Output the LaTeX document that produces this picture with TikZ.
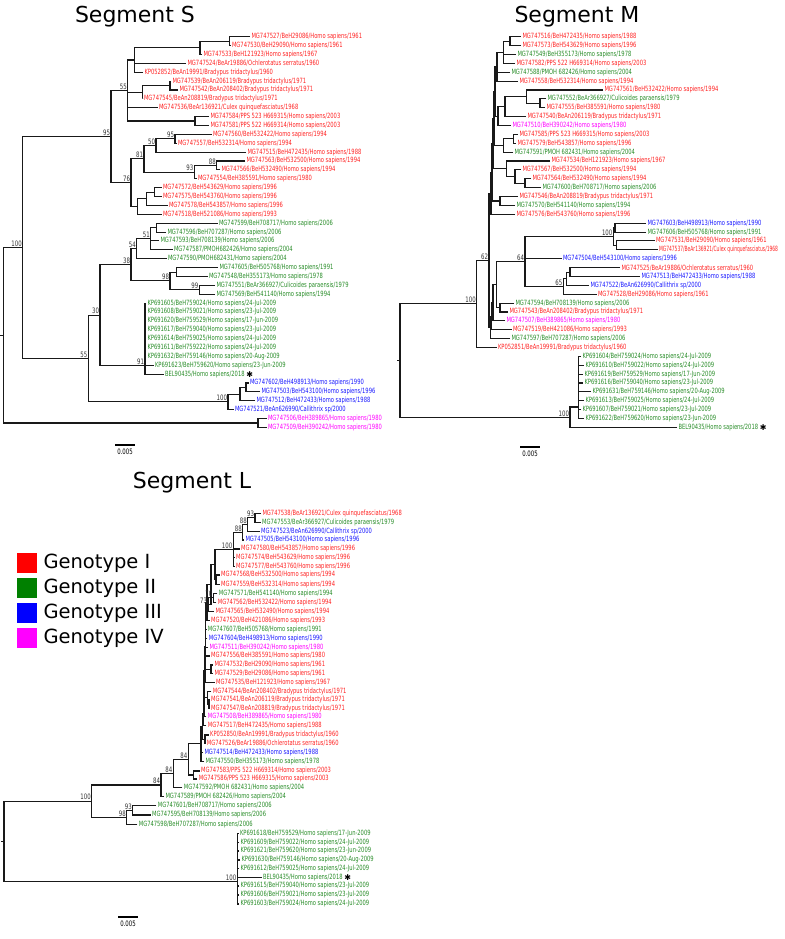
\documentclass[tikz,border=0pt]{standalone}
\usepackage{fontspec}
\setmainfont{DejaVu Sans}
\newfontfamily\labfont[FakeStretch=0.72]{DejaVu Sans}
\newfontfamily\labfontn[FakeStretch=0.615]{DejaVu Sans}
\usetikzlibrary{calc}
\definecolor{cR}{RGB}{255,35,35}
\definecolor{cG}{RGB}{40,140,40}
\definecolor{cB}{RGB}{25,25,255}
\definecolor{cM}{RGB}{255,0,255}
\definecolor{kR}{RGB}{255,0,0}
\definecolor{kG}{RGB}{0,128,0}
\definecolor{kB}{RGB}{0,0,255}
\definecolor{kM}{RGB}{255,0,255}
\newcommand\lf{\labfont\fontsize{7.2}{8}\selectfont}
\newcommand\bsfont{\labfont\fontsize{7.5}{8}\selectfont}
\tikzset{
  br/.style={line width=1.1pt,black!90},
  lab/.style={anchor=west,inner sep=0pt,outer sep=0pt,xshift=1.5pt,font=\lf},
  bsn/.style={anchor=south east,inner sep=0pt,xshift=-0.8pt,yshift=0.9pt,font=\bsfont,text=black!80},
  astk/.style={anchor=west,inner sep=0pt,xshift=1.5pt,font=\fontsize{8}{8}\selectfont,text=black},
  ttl/.style={font=\fontsize{22}{22}\selectfont,inner sep=0pt},
  leg/.style={anchor=west,font=\fontsize{19.5}{20}\selectfont,inner sep=0pt},
  keybox/.style={minimum size=20pt,inner sep=0pt,draw=none},
  sbar/.style={line width=1.1pt},
  sblab/.style={font=\bsfont,inner sep=0pt,anchor=north}
}
\newcommand\lv[5]{\coordinate (#1) at (#2,#3);\node[lab,text=#4] (#1t) at (#1) {#5};}
\newcommand\nd[4]{\path let \p1=(#3),\p2=(#4) in coordinate (#1) at (#2pt,{0.5*\y1+0.5*\y2});}
\newcommand\kids[2]{\foreach \c in {#2}{\draw[br] (\c) -| (#1);}}
\newcommand\bsv[2]{\node[bsn] (#1-bs) at (#1) {#2};}
\begin{document}
\begin{tikzpicture}[x=1pt,y=-1pt]
\useasboundingbox (0,0) rectangle (784,939);
% ---------------- Titles
\node[ttl] (tS) at (135,17) {Segment S};
\node[ttl] (tM) at (577,17) {Segment M};
\node[ttl] (tL) at (192,483) {Segment L};
% ---------------- Segment S leaves
\lv{a0}{250}{36.7}{cR}{MG747527/BeH29086/Homo sapiens/1961}
\lv{a1}{230.5}{45.6}{cR}{MG747530/BeH29090/Homo sapiens/1961}
\lv{a2}{202}{54.5}{cR}{MG747533/BeH121923/Homo sapiens/1967}
\lv{a3}{186}{63.3}{cR}{MG747524/BeAr19886/Ochlerotatus serratus/1960}
\lv{a4}{143}{72.2}{cR}{KP052852/BeAn19991/Bradypus tridactylus/1960}
\lv{a5}{171}{81.1}{cR}{MG747539/BeAn206119/Bradypus tridactylus/1971}
\lv{a6}{178}{90.0}{cR}{MG747542/BeAn208402/Bradypus tridactylus/1971}
\lv{a7}{142.5}{98.9}{cR}{MG747545/BeAn208819/Bradypus tridactylus/1971}
\lv{a8}{157.5}{107.7}{cR}{MG747536/BeAr136921/Culex quinquefasciatus/1968}
\lv{a9}{209}{116.6}{cR}{MG747584/PPS 523 H669315/Homo sapiens/2003}
\lv{a10}{209}{125.5}{cR}{MG747581/PPS 522 H669314/Homo sapiens/2003}
\lv{a11}{211.5}{134.4}{cR}{MG747560/BeH532422/Homo sapiens/1994}
\lv{a12}{176.5}{143.3}{cR}{MG747557/BeH532314/Homo sapiens/1994}
\lv{a13}{246}{152.1}{cR}{MG747515/BeH472435/Homo sapiens/1988}
\lv{a14}{245}{161.0}{cR}{MG747563/BeH532500/Homo sapiens/1994}
\lv{a15}{220}{169.9}{cR}{MG747566/BeH532490/Homo sapiens/1994}
\lv{a16}{196.5}{178.8}{cR}{MG747554/BeH385591/Homo sapiens/1980}
\lv{a17}{161.5}{187.7}{cR}{MG747572/BeH543629/Homo sapiens/1996}
\lv{a18}{161.5}{196.5}{cR}{MG747575/BeH543760/Homo sapiens/1996}
\lv{a19}{167.5}{205.4}{cR}{MG747578/BeH543857/Homo sapiens/1996}
\lv{a20}{161.5}{214.3}{cR}{MG747518/BeH521086/Homo sapiens/1993}
\lv{a21}{217.5}{223.2}{cG}{MG747599/BeH708717/Homo sapiens/2006}
\lv{a22}{166}{232.1}{cG}{MG747596/BeH707287/Homo sapiens/2006}
\lv{a23}{159}{240.9}{cG}{MG747593/BeH708139/Homo sapiens/2006}
\lv{a24}{172.5}{249.8}{cG}{MG747587/PMOH682426/Homo sapiens/2004}
\lv{a25}{166.5}{258.7}{cG}{MG747590/PMOH682431/Homo sapiens/2004}
\lv{a26}{218}{267.6}{cG}{MG747605/BeH505768/Homo sapiens/1991}
\lv{a27}{207.5}{276.5}{cG}{MG747548/BeH355173/Homo sapiens/1978}
\lv{a28}{215}{285.3}{cG}{MG747551/BeAr366927/Culicoides paraensis/1979}
\lv{a29}{215}{294.2}{cG}{MG747569/BeH541140/Homo sapiens/1994}
\lv{a30}{146}{303.1}{cG}{KP691605/BeH759024/Homo sapiens/24-Jul-2009}
\lv{a31}{146}{312.0}{cG}{KP691608/BeH759021/Homo sapiens/23-Jul-2009}
\lv{a32}{146}{320.9}{cG}{KP691620/BeH759529/Homo sapiens/17-Jun-2009}
\lv{a33}{146}{329.7}{cG}{KP691617/BeH759040/Homo sapiens/23-Jul-2009}
\lv{a34}{146}{338.6}{cG}{KP691614/BeH759025/Homo sapiens/24-Jul-2009}
\lv{a35}{146}{347.5}{cG}{KP691611/BeH759222/Homo sapiens/24-Jul-2009}
\lv{a36}{146}{356.4}{cG}{KP691632/BeH759146/Homo sapiens/20-Aug-2009}
\lv{a37}{153.5}{365.3}{cG}{KP691623/BeH759620/Homo sapiens/23-Jun-2009}
\lv{a38}{163.5}{374.1}{cG}{BEL90435/Homo sapiens/2018}
\node[astk] (a38s) at (a38t.east) {✱};
\lv{a39}{248.5}{383.0}{cB}{MG747602/BeH498913/Homo sapiens/1990}
\lv{a40}{260}{391.9}{cB}{MG747503/BeH543100/Homo sapiens/1996}
\lv{a41}{255}{400.8}{cB}{MG747512/BeH472433/Homo sapiens/1988}
\lv{a42}{233.5}{409.6}{cB}{MG747521/BeAn626990/Callithrix sp/2000}
\lv{a43}{266.5}{418.5}{cM}{MG747506/BeH389865/Homo sapiens/1980}
\lv{a44}{266.5}{427.4}{cM}{MG747509/BeH390242/Homo sapiens/1980}
% ---------------- Segment S tree
\nd{sA1}{229.3}{a0}{a1}\kids{sA1}{a0,a1}
\nd{sA2}{200}{sA1}{a2}\kids{sA2}{sA1,a2}
\nd{sA3}{134.3}{sA2}{a4}\kids{sA3}{sA2,a3,a4}
\nd{sB1}{170}{a5}{a6}\kids{sB1}{a5,a6}
\nd{sB2}{142.7}{sB1}{a7}\kids{sB2}{sB1,a7}
\nd{sC1}{195}{a9}{a10}\kids{sC1}{a9,a10}
\nd{s55}{127.7}{sA3}{sC1}\kids{s55}{sA3,sB2,a8,sC1}
\nd{sQ1}{175}{a11}{a12}\kids{sQ1}{a11,a12}
\nd{sQ2}{156}{sQ1}{a13}\kids{sQ2}{sQ1,a13}
\nd{sR1}{216.7}{a14}{a15}\kids{sR1}{a14,a15}
\nd{sR2}{194.3}{sR1}{a16}\kids{sR2}{sR1,a16}
\nd{s81}{144}{sQ2}{sR2}\kids{s81}{sQ2,sR2}
\nd{sS1}{154.3}{a17}{a18}\kids{sS1}{a17,a18}
\nd{sS2}{146.7}{sS1}{a19}\kids{sS2}{sS1,a19}
\nd{sS3}{137.7}{sS2}{a20}\kids{sS3}{sS2,a20}
\nd{s76}{131}{s81}{sS3}\kids{s76}{s81,sS3}
\nd{s95}{111}{s55}{s76}\kids{s95}{s55,s76}
\nd{sT1}{156.7}{a21}{a22}\kids{sT1}{a21,a22}
\nd{s51}{150.7}{sT1}{a24}\kids{s51}{sT1,a23,a24}
\nd{s54}{136.7}{s51}{a25}\kids{s54}{s51,a25}
\nd{sV1}{176.7}{a26}{a27}\kids{sV1}{a26,a27}
\nd{s99}{199.3}{a28}{a29}\kids{s99}{a28,a29}
\nd{s98}{170}{sV1}{s99}\kids{s98}{sV1,s99}
\nd{s38}{131}{s54}{s98}\kids{s38}{s54,s98}
\coordinate (s91) at (145,365.3);
\kids{s91}{a30,a31,a32,a33,a34,a35,a36,a37,a38}
\nd{s30}{100}{s38}{s91}\kids{s30}{s38,s91}
\nd{sB0}{246}{a39}{a40}\kids{sB0}{a39,a40}
\nd{sBl}{240}{sB0}{a41}\kids{sBl}{sB0,a41}
\nd{sIII}{228}{sBl}{a42}\kids{sIII}{sBl,a42}
\nd{s55b}{88.3}{s30}{sIII}\kids{s55b}{s30,sIII}
\nd{s100}{22.7}{s95}{s55b}\kids{s100}{s95,s55b}
\nd{sMg}{258}{a43}{a44}\kids{sMg}{a43,a44}
\nd{sRt}{3.3}{s100}{sMg}\kids{sRt}{s100,sMg}
\coordinate (sRtT) at ($(sRt)+(-3,0)$);
\draw[br] (sRt) -- (sRtT);
\bsv{s55}{55}\bsv{sQ1}{95}\bsv{sQ2}{50}\bsv{sR1}{88}\bsv{sR2}{93}\bsv{s81}{81}
\bsv{s76}{76}\bsv{s95}{95}\bsv{s51}{51}\bsv{s54}{54}\bsv{s98}{98}\bsv{s99}{99}
\bsv{s38}{38}\bsv{s91}{91}\bsv{s30}{30}\bsv{s55b}{55}\bsv{s100}{100}\bsv{sIII}{100}
\coordinate (sbS1) at (115,445);\coordinate (sbS2) at (135,445);
\draw[sbar] (sbS1) -- (sbS2);
\node[sblab] (sbSt) at ($(sbS1)!0.5!(sbS2)+(0,4)$) {0.005};
% ---------------- Segment M leaves
\lv{b0}{521}{36.7}{cR}{MG747516/BeH472435/Homo sapiens/1988}
\lv{b1}{521}{45.6}{cR}{MG747573/BeH543629/Homo sapiens/1996}
\lv{b2}{516}{54.5}{cG}{MG747549/BeH355173/Homo sapiens/1978}
\lv{b3}{515}{63.3}{cR}{MG747582/PPS 522 H669314/Homo sapiens/2003}
\lv{b4}{510}{72.2}{cG}{MG747588/PMOH 682426/Homo sapiens/2004}
\lv{b5}{518}{81.1}{cR}{MG747558/BeH532314/Homo sapiens/1994}
\lv{b6}{603}{90.0}{cR}{MG747561/BeH532422/Homo sapiens/1994}
\lv{b7}{546}{98.9}{cG}{MG747552/BeAr366927/Culicoides paraensis/1979}
\lv{b8}{545}{107.7}{cR}{MG747555/BeH385591/Homo sapiens/1980}
\lv{b9}{526}{116.6}{cR}{MG747540/BeAn206119/Bradypus tridactylus/1971}
\lv{b10}{511}{125.5}{cM}{MG747510/BeH390242/Homo sapiens/1980}
\lv{b11}{518}{134.4}{cR}{MG747585/PPS 523 H669315/Homo sapiens/2003}
\lv{b12}{516}{143.3}{cR}{MG747579/BeH543857/Homo sapiens/1996}
\lv{b13}{513}{152.1}{cG}{MG747591/PMOH 682431/Homo sapiens/2004}
\lv{b14}{550}{161.0}{cR}{MG747534/BeH121923/Homo sapiens/1967}
\lv{b15}{521}{169.9}{cR}{MG747567/BeH532500/Homo sapiens/1994}
\lv{b16}{531}{178.8}{cR}{MG747564/BeH532490/Homo sapiens/1994}
\lv{b17}{541}{187.7}{cG}{MG747600/BeH708717/Homo sapiens/2006}
\lv{b18}{518}{196.5}{cR}{MG747546/BeAn208819/Bradypus tridactylus/1971}
\lv{b19}{515}{205.4}{cG}{MG747570/BeH541140/Homo sapiens/1994}
\lv{b20}{515}{214.3}{cR}{MG747576/BeH543760/Homo sapiens/1996}
\lv{b21}{646}{223.2}{cB}{MG747603/BeH498913/Homo sapiens/1990}
\lv{b22}{646}{232.1}{cG}{MG747606/BeH505768/Homo sapiens/1991}
\lv{b23}{654.5}{240.9}{cR}{MG747531/BeH29090/Homo sapiens/1961}
\coordinate (b24) at (657.5,249.8);
\node[lab,text=cR,font=\labfontn\fontsize{7.2}{8}\selectfont] (b24t) at (b24) {MG747537/BeAr136921/Culex quinquefasciatus/1968};
\lv{b25}{561.5}{258.7}{cB}{MG747504/BeH543100/Homo sapiens/1996}
\lv{b26}{620}{267.6}{cR}{MG747525/BeAr19886/Ochlerotatus serratus/1960}
\lv{b27}{640}{276.5}{cB}{MG747513/BeH472433/Homo sapiens/1988}
\lv{b28}{589}{285.3}{cB}{MG747522/BeAn626990/Callithrix sp/2000}
\lv{b29}{596.5}{294.2}{cR}{MG747528/BeH29086/Homo sapiens/1961}
\lv{b30}{514}{303.1}{cG}{MG747594/BeH708139/Homo sapiens/2006}
\lv{b31}{508}{312.0}{cR}{MG747543/BeAn208402/Bradypus tridactylus/1971}
\lv{b32}{505}{320.9}{cM}{MG747507/BeH389865/Homo sapiens/1980}
\lv{b33}{511.5}{329.7}{cR}{MG747519/BeH421086/Homo sapiens/1993}
\lv{b34}{510}{338.6}{cG}{MG747597/BeH707287/Homo sapiens/2006}
\lv{b35}{496.5}{347.5}{cR}{KP052851/BeAn19991/Bradypus tridactylus/1960}
\lv{b36}{581}{356.4}{cG}{KP691604/BeH759024/Homo sapiens/24-Jul-2009}
\lv{b37}{584}{365.3}{cG}{KP691610/BeH759022/Homo sapiens/24-Jul-2009}
\lv{b38}{583}{374.1}{cG}{KP691619/BeH759529/Homo sapiens/17-Jun-2009}
\lv{b39}{583}{383.0}{cG}{KP691616/BeH759040/Homo sapiens/23-Jul-2009}
\lv{b40}{591}{391.9}{cG}{KP691631/BeH759146/Homo sapiens/20-Aug-2009}
\lv{b41}{584}{400.8}{cG}{KP691613/BeH759025/Homo sapiens/24-Jul-2009}
\lv{b42}{581}{409.6}{cG}{KP691607/BeH759021/Homo sapiens/23-Jul-2009}
\lv{b43}{584}{418.5}{cG}{KP691622/BeH759620/Homo sapiens/23-Jun-2009}
\lv{b44}{677}{427.4}{cG}{BEL90435/Homo sapiens/2018}
\node[astk] (b44s) at (b44t.east) {✱};
% ---------------- Segment M tree
\nd{mM1}{510}{b0}{b1}\kids{mM1}{b0,b1}
\nd{mM2}{503.3}{mM1}{b3}\kids{mM2}{mM1,b2,b3}
\nd{mM3}{497}{mM2}{b5}\kids{mM3}{mM2,b4,b5}
\nd{mM4b}{540}{b7}{b8}\kids{mM4b}{b7,b8}
\nd{mM4a}{526.7}{b6}{mM4b}\kids{mM4a}{b6,mM4b}
\nd{mM4c}{505}{mM4a}{b9}\kids{mM4c}{mM4a,b9}
\nd{mM4d}{498}{mM4c}{b10}\kids{mM4d}{mM4c,b10}
\nd{mM5a}{513.3}{b11}{b12}\kids{mM5a}{b11,b12}
\nd{mM5}{503.3}{mM5a}{b13}\kids{mM5}{mM5a,b13}
\nd{mM6a}{525}{b16}{b17}\kids{mM6a}{b16,b17}
\nd{mM6b}{515}{b15}{mM6a}\kids{mM6b}{b15,mM6a}
\nd{mM6}{506.7}{b14}{mM6b}\kids{mM6}{b14,mM6b}
\nd{mM7}{500}{b18}{b19}\kids{mM7}{b18,b19}
\nd{mT1}{495}{mM3}{mM4d}\kids{mT1}{mM3,mM4d}
\nd{mT2}{494}{mT1}{mM5}\kids{mT2}{mT1,mM5}
\nd{mT3}{493}{mT2}{mM6}\kids{mT3}{mT2,mM6}
\nd{mT4}{492}{mT3}{mM7}\kids{mT4}{mT3,mM7}
\nd{mT5}{491}{mT4}{b20}\kids{mT5}{mT4,b20}
\nd{mP1}{615}{b21}{b22}\kids{mP1}{b21,b22}
\nd{mP2}{616.7}{b23}{b24}\kids{mP2}{b23,b24}
\nd{m100}{613.3}{mP1}{mP2}\kids{m100}{mP1,mP2}
\nd{mC}{570}{b26}{b27}\kids{mC}{b26,b27}
\nd{m65a}{566.7}{mC}{b28}\kids{m65a}{mC,b28}
\nd{m65}{563.3}{m65a}{b29}\kids{m65}{m65a,b29}
\nd{m64}{525}{m100}{m65}\kids{m64}{m100,b25,m65}
\nd{mL1}{500}{b30}{b31}\kids{mL1}{b30,b31}
\nd{mW1}{496.7}{m64}{mL1}\kids{mW1}{m64,mL1}
\nd{mW2}{493}{mW1}{b32}\kids{mW2}{mW1,b32}
\nd{mW3}{491.5}{mW2}{b33}\kids{mW3}{mW2,b33}
\nd{mW4}{490.5}{mW3}{b34}\kids{mW4}{mW3,b34}
\nd{m62}{489}{mT5}{mW4}\kids{m62}{mT5,mW4}
\nd{mU}{476.7}{m62}{b35}\kids{mU}{m62,b35}
\coordinate (mKPi) at (578.5,407);
\kids{mKPi}{b36,b37,b38,b39,b40,b41,b42,b43}
\coordinate (mKP) at (570,417.3);
\kids{mKP}{mKPi,b44}
\nd{mRt}{400}{mU}{mKP}\kids{mRt}{mU,mKP}
\coordinate (mRtT) at ($(mRt)+(-3,0)$);
\draw[br] (mRt) -- (mRtT);
\bsv{m100}{100}\bsv{m64}{64}\bsv{m65}{65}\bsv{m62}{62}\bsv{mU}{100}\bsv{mKP}{100}
\coordinate (sbM1) at (520,447);\coordinate (sbM2) at (540,447);
\draw[sbar] (sbM1) -- (sbM2);
\node[sblab] (sbMt) at ($(sbM1)!0.5!(sbM2)+(0,4)$) {0.005};
% ---------------- Segment L leaves
\lv{c0}{261}{513.3}{cR}{MG747538/BeAr136921/Culex quinquefasciatus/1968}
\lv{c1}{260.7}{522.3}{cG}{MG747553/BeAr366927/Culicoides paraensis/1979}
\lv{c2}{259.7}{531.7}{cB}{MG747523/BeAn626990/Callithrix sp/2000}
\lv{c3}{244}{540}{cB}{MG747505/BeH543100/Homo sapiens/1996}
\lv{c4}{239.7}{549}{cR}{MG747580/BeH543857/Homo sapiens/1996}
\lv{c5}{234.7}{557.7}{cR}{MG747574/BeH543629/Homo sapiens/1996}
\lv{c6}{234.7}{566.7}{cR}{MG747577/BeH543760/Homo sapiens/1996}
\lv{c7}{219.7}{575}{cR}{MG747568/BeH532500/Homo sapiens/1994}
\lv{c8}{219.7}{584.3}{cR}{MG747559/BeH532314/Homo sapiens/1994}
\lv{c9}{217.3}{593.3}{cG}{MG747571/BeH541140/Homo sapiens/1994}
\lv{c10}{216.3}{602.3}{cR}{MG747562/BeH532422/Homo sapiens/1994}
\lv{c11}{214}{611.7}{cR}{MG747565/BeH532490/Homo sapiens/1994}
\lv{c12}{209.7}{620.7}{cR}{MG747520/BeH421086/Homo sapiens/1993}
\lv{c13}{206.3}{629.3}{cG}{MG747607/BeH505768/Homo sapiens/1991}
\lv{c14}{207.3}{638.3}{cB}{MG747604/BeH498913/Homo sapiens/1990}
\lv{c15}{208}{647.3}{cM}{MG747511/BeH390242/Homo sapiens/1980}
\lv{c16}{209.7}{656}{cR}{MG747556/BeH385591/Homo sapiens/1980}
\lv{c17}{213}{665}{cR}{MG747532/BeH29090/Homo sapiens/1961}
\lv{c18}{213}{673.3}{cR}{MG747529/BeH29086/Homo sapiens/1961}
\lv{c19}{214.7}{682.7}{cR}{MG747535/BeH121923/Homo sapiens/1967}
\lv{c20}{211.3}{691.7}{cR}{MG747544/BeAn208402/Bradypus tridactylus/1971}
\lv{c21}{209.7}{700}{cR}{MG747541/BeAn206119/Bradypus tridactylus/1971}
\lv{c22}{209.7}{708.3}{cR}{MG747547/BeAn208819/Bradypus tridactylus/1971}
\lv{c23}{206.3}{716.7}{cM}{MG747508/BeH389865/Homo sapiens/1980}
\lv{c24}{206.3}{725.7}{cR}{MG747517/BeH472435/Homo sapiens/1988}
\lv{c25}{208.7}{735}{cR}{KP052850/BeAn19991/Bradypus tridactylus/1960}
\lv{c26}{205.3}{743.3}{cR}{MG747526/BeAr19886/Ochlerotatus serratus/1960}
\lv{c27}{203}{752.7}{cB}{MG747514/BeH472433/Homo sapiens/1988}
\lv{c28}{204}{761.7}{cG}{MG747550/BeH355173/Homo sapiens/1978}
\lv{c29}{199.7}{771}{cR}{MG747583/PPS 522 H669314/Homo sapiens/2003}
\lv{c30}{197.3}{779}{cR}{MG747586/PPS 523 H669315/Homo sapiens/2003}
\lv{c31}{182.3}{787.3}{cG}{MG747592/PMOH 682431/Homo sapiens/2004}
\lv{c32}{164}{796.7}{cG}{MG747589/PMOH 682426/Homo sapiens/2004}
\lv{c33}{156.3}{805.7}{cG}{MG747601/BeH708717/Homo sapiens/2006}
\lv{c34}{150.7}{815}{cG}{MG747595/BeH708139/Homo sapiens/2006}
\lv{c35}{137.3}{824.3}{cG}{MG747598/BeH707287/Homo sapiens/2006}
\lv{c36}{238.5}{833.3}{cG}{KP691618/BeH759529/Homo sapiens/17-Jun-2009}
\lv{c37}{239}{842.3}{cG}{KP691609/BeH759022/Homo sapiens/24-Jul-2009}
\lv{c38}{239}{851}{cG}{KP691621/BeH759620/Homo sapiens/23-Jun-2009}
\lv{c39}{240}{860}{cG}{KP691630/BeH759146/Homo sapiens/20-Aug-2009}
\lv{c40}{239}{868.3}{cG}{KP691612/BeH759025/Homo sapiens/24-Jul-2009}
\lv{c41}{261.5}{877.7}{cG}{BEL90435/Homo sapiens/2018}
\node[astk] (c41s) at (c41t.east) {✱};
\lv{c42}{239}{886}{cG}{KP691615/BeH759040/Homo sapiens/23-Jul-2009}
\lv{c43}{239}{895}{cG}{KP691606/BeH759021/Homo sapiens/23-Jul-2009}
\lv{c44}{239}{904}{cG}{KP691603/BeH759024/Homo sapiens/24-Jul-2009}
% ---------------- Segment L tree
\nd{l93}{255}{c0}{c1}\kids{l93}{c0,c1}
\nd{l88a}{247.7}{l93}{c2}\kids{l88a}{l93,c2}
\nd{l88b}{242.7}{l88a}{c3}\kids{l88b}{l88a,c3}
\nd{l100}{233.3}{l88b}{c6}\kids{l100}{l88b,c4,c5,c6}
\nd{lP1}{216}{c7}{c8}\kids{lP1}{c7,c8}
\nd{lB1}{215}{l100}{lP1}\kids{lB1}{l100,lP1}
\nd{l70}{213.3}{c9}{c10}\kids{l70}{c9,c10}
\nd{l73}{208}{l70}{c11}\kids{l73}{l70,c11}
\nd{n1}{211}{lB1}{l73}\kids{n1}{lB1,l73}
\nd{n2}{207}{n1}{c12}\kids{n2}{n1,c12}
\nd{n3}{205.5}{n2}{c13}\kids{n3}{n2,c13}
\nd{n4}{205.5}{n3}{c14}\kids{n4}{n3,c14}
\nd{n5}{205.5}{n4}{c15}\kids{n5}{n4,c15}
\nd{n6}{205.5}{n5}{c16}\kids{n6}{n5,c16}
\nd{lD1}{211}{c17}{c18}\kids{lD1}{c17,c18}
\nd{n7}{205}{n6}{lD1}\kids{n7}{n6,lD1}
\nd{n8}{205}{n7}{c19}\kids{n8}{n7,c19}
\nd{lD2}{209}{c21}{c22}\kids{lD2}{c21,c22}
\nd{lD3}{207.5}{c20}{lD2}\kids{lD3}{c20,lD2}
\nd{n9}{204}{n8}{lD3}\kids{n9}{n8,lD3}
\nd{n10}{204}{n9}{c23}\kids{n10}{n9,c23}
\nd{n11}{203.5}{n10}{c24}\kids{n11}{n10,c24}
\nd{lD4}{205}{c25}{c26}\kids{lD4}{c25,c26}
\nd{n12}{202.5}{n11}{lD4}\kids{n12}{n11,lD4}
\nd{lX}{201}{n12}{c28}\kids{lX}{n12,c27,c28}
\nd{lP2}{193.3}{c29}{c30}\kids{lP2}{c29,c30}
\nd{l84a}{188.3}{lX}{lP2}\kids{l84a}{lX,lP2}
\nd{l84b}{173.3}{l84a}{c31}\kids{l84b}{l84a,c31}
\nd{l84c}{161}{l84b}{c32}\kids{l84c}{l84b,c32}
\nd{l93b}{132.7}{c33}{c34}\kids{l93b}{c33,c34}
\nd{l98}{126.7}{l93b}{c35}\kids{l98}{l93b,c35}
\nd{lA}{91.7}{l84c}{l98}\kids{lA}{l84c,l98}
\coordinate (lKP) at (237.3,881.7);
\kids{lKP}{c36,c37,c38,c39,c40,c41,c42,c43,c44}
\nd{lRt}{4}{lA}{lKP}\kids{lRt}{lA,lKP}
\coordinate (lRtT) at ($(lRt)+(-3,0)$);
\draw[br] (lRt) -- (lRtT);
\bsv{l93}{93}\bsv{l88a}{88}\bsv{l88b}{88}\bsv{l100}{100}\bsv{l70}{70}\bsv{l73}{73}
\bsv{l84a}{84}\bsv{l84b}{84}\bsv{l84c}{84}\bsv{l93b}{93}\bsv{l98}{98}\bsv{lA}{100}\bsv{lKP}{100}
\coordinate (sbL1) at (118,917);\coordinate (sbL2) at (138,917);
\draw[sbar] (sbL1) -- (sbL2);
\node[sblab] (sbLt) at ($(sbL1)!0.5!(sbL2)+(0,4)$) {0.005};
% ---------------- Legend
\node[keybox,fill=kR] (kI) at (26.7,563.3) {};
\node[keybox,fill=kG] (kII) at (26.7,588.3) {};
\node[keybox,fill=kB] (kIII) at (26.7,613.3) {};
\node[keybox,fill=kM] (kIV) at (26.7,638.3) {};
\node[leg] (kIt) at (43.3,563.3) {Genotype I};
\node[leg] (kIIt) at (43.3,588.3) {Genotype II};
\node[leg] (kIIIt) at (43.3,613.3) {Genotype III};
\node[leg] (kIVt) at (43.3,638.3) {Genotype IV};
\end{tikzpicture}
\end{document}
